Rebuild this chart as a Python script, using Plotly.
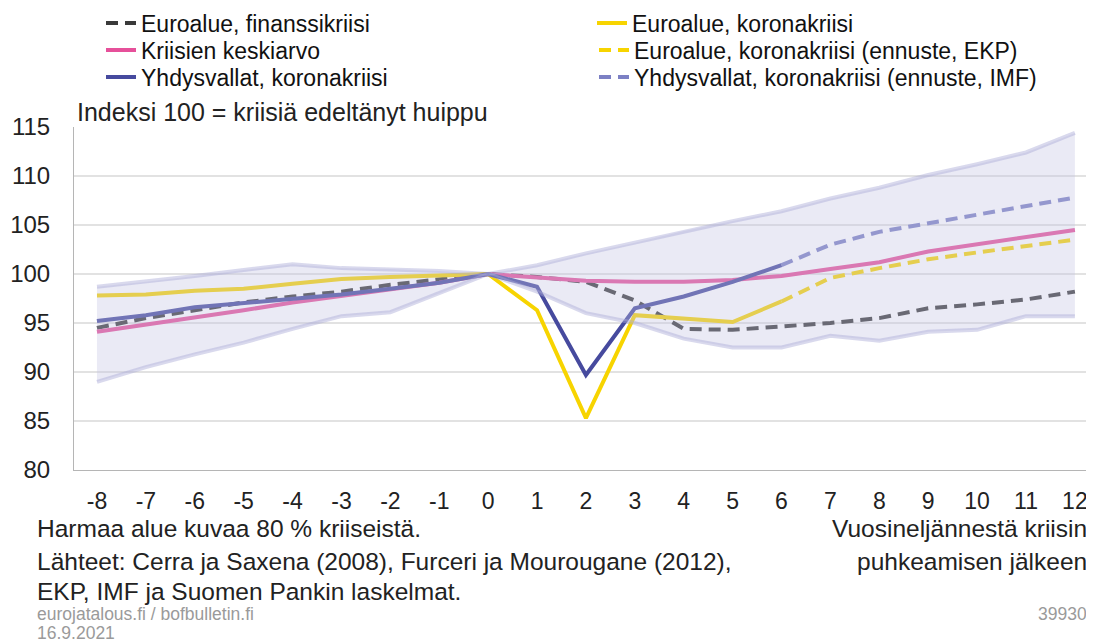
import plotly.graph_objects as go

quarters = list(range(-8, 13))
q_pre = list(range(-8, 7))
q_fc = list(range(6, 13))

euro_fin = [94.5, 95.5, 96.3, 97.1, 97.7, 98.2, 98.9, 99.4, 100, 99.7, 99.2, 97.3,
            94.4, 94.3, 94.6, 95.0, 95.5, 96.5, 96.9, 97.4, 98.2]
crisis_avg = [94.1, 94.8, 95.5, 96.3, 97.1, 97.8, 98.5, 99.1, 100, 99.6, 99.3, 99.2,
              99.2, 99.4, 99.8, 100.5, 101.2, 102.3, 103.0, 103.8, 104.5]
euro_corona = [97.8, 97.9, 98.3, 98.5, 99.0, 99.5, 99.7, 99.9, 100, 96.3, 85.3, 95.8,
               95.4, 95.1, 97.2]
euro_ekp = [97.2, 99.6, 100.6, 101.5, 102.2, 102.8, 103.5]
us_corona = [95.2, 95.8, 96.6, 97.0, 97.4, 97.9, 98.5, 99.1, 100, 98.7, 89.7, 96.5,
             97.7, 99.2, 100.9]
us_imf = [100.9, 103.0, 104.3, 105.2, 106.1, 106.9, 107.8]
band_upper = [98.7, 99.2, 99.8, 100.4, 101.0, 100.6, 100.5, 100.3, 100, 100.9, 102.1,
              103.2, 104.4, 105.4, 106.4, 107.7, 108.8, 110.1, 111.2, 112.4, 114.4]
band_lower = [89.0, 90.5, 91.8, 93.0, 94.4, 95.7, 96.1, 98.0, 100, 98.2, 96.0, 95.0,
              93.4, 92.5, 92.5, 93.7, 93.2, 94.1, 94.3, 95.7, 95.7]

names = ["Euroalue, finanssikriisi", "Euroalue, koronakriisi", "Kriisien keskiarvo",
         "Euroalue, koronakriisi (ennuste, EKP)", "Yhdysvallat, koronakriisi",
         "Yhdysvallat, koronakriisi (ennuste, IMF)"]

FONT = "Liberation Sans, Arial, sans-serif"
YELLOW = "#f7d400"
PINK = "#e6509a"
NAVY = "#464a9e"
LAV = "#7c80c4"
GREY = "#3a3a3a"
DASH = "12px,7px"

# page has an 8px body margin; figure sized to fill the rest of the window
OFF = 8
W, H = 1094 - OFF, 642 - OFF
ML, MR, MT, MB = 74 - OFF, 2, 127 - OFF, 642 - 470
pw, ph = W - ML - MR, H - MT - MB


def px2x(px):
    return (px - OFF - ML) / pw


def py2y(py):
    return 1 - (py - OFF - MT) / ph


fig = go.Figure()
fig.add_trace(go.Scatter(x=quarters, y=euro_fin, name=names[0], legend="legend",
                         line=dict(color=GREY, width=4, dash=DASH), mode="lines"))
fig.add_trace(go.Scatter(x=q_fc, y=euro_ekp, name=names[3], legend="legend4",
                         line=dict(color=YELLOW, width=4, dash=DASH), mode="lines"))
fig.add_trace(go.Scatter(x=q_fc, y=us_imf, name=names[5], legend="legend6",
                         line=dict(color=LAV, width=4, dash=DASH), mode="lines"))
fig.add_trace(go.Scatter(x=quarters, y=crisis_avg, name=names[2], legend="legend3",
                         line=dict(color=PINK, width=4), mode="lines"))
fig.add_trace(go.Scatter(x=q_pre, y=euro_corona, name=names[1], legend="legend2",
                         line=dict(color=YELLOW, width=4), mode="lines"))
fig.add_trace(go.Scatter(x=q_pre, y=us_corona, name=names[4], legend="legend5",
                         line=dict(color=NAVY, width=4), mode="lines"))

# 80 % band drawn on top (semi-transparent), as in the original
fig.add_trace(go.Scatter(x=quarters + quarters[::-1], y=band_upper + band_lower[::-1],
                         fill="toself", fillcolor="rgba(195,195,225,0.35)",
                         line=dict(width=0), mode="lines", showlegend=False,
                         hoverinfo="skip"))
for b in (band_upper, band_lower):
    fig.add_trace(go.Scatter(x=quarters, y=b, mode="lines", showlegend=False,
                             line=dict(color="rgba(170,170,215,0.45)", width=4),
                             hoverinfo="skip"))

# legend placement (reference pixel: text start x, row centre y)
leg_pos = {
    "legend": (143, 23), "legend2": (634, 23),
    "legend3": (143, 50), "legend4": (636, 50),
    "legend5": (143, 77), "legend6": (636, 77),
}
legends = {}
for key, (tx, cy) in leg_pos.items():
    legends[key] = dict(x=px2x(tx - 42), xanchor="left", y=py2y(cy), yanchor="middle",
                        orientation="v", bgcolor="rgba(0,0,0,0)",
                        font=dict(family=FONT, size=23, color="#111"))

annos = [
    ("Indeksi 100 = kriisiä edeltänyt huippu", 75, 112, "left", 25, "#222"),
    ("Harmaa alue kuvaa 80 % kriiseistä.", 35, 528, "left", 24.5, "#222"),
    ("Lähteet: Cerra ja Saxena (2008), Furceri ja Mourougane (2012),", 35, 561, "left", 24.5, "#222"),
    ("EKP, IMF ja Suomen Pankin laskelmat.", 35, 591, "left", 24.5, "#222"),
    ("Vuosineljännestä kriisin", 1089, 528, "right", 24.5, "#222"),
    ("puhkeamisen jälkeen", 1089, 561, "right", 24.5, "#222"),
    ("eurojatalous.fi / bofbulletin.fi", 35, 614, "left", 17.5, "#9a9a9a"),
    ("16.9.2021", 35, 633, "left", 17.5, "#9a9a9a"),
    ("39930", 1089, 614, "right", 17.5, "#9a9a9a"),
]
for text, x, y, anchor, size, color in annos:
    fig.add_annotation(text=text, xref="paper", yref="paper", x=px2x(x), y=py2y(y),
                       xanchor=anchor, yanchor="middle", showarrow=False,
                       font=dict(family=FONT, size=size, color=color))

fig.update_layout(
    width=W, height=H,
    margin=dict(l=ML, r=MR, t=MT, b=MB, autoexpand=False),
    paper_bgcolor="white", plot_bgcolor="white",
    font=dict(family=FONT, size=24, color="#222"),
    showlegend=True,
    **legends,
)
fig.update_xaxes(range=[-8.47, 12.35], tickmode="array", tickvals=quarters,
                 ticktext=[str(v) for v in quarters], showgrid=False, zeroline=False,
                 showline=True, linecolor="#b5b5b5", linewidth=1,
                 ticks="", ticklabelstandoff=10,
                 tickfont=dict(family=FONT, size=23, color="#222"))
fig.update_yaxes(range=[80, 115], tickvals=[80, 85, 90, 95, 100, 105, 110, 115],
                 showgrid=True, gridcolor="#e2e2e2", gridwidth=1.5, zeroline=False,
                 showline=True, linecolor="#b5b5b5", linewidth=1,
                 ticks="", ticklabelstandoff=18,
                 tickfont=dict(family=FONT, size=24, color="#222"))

fig.write_html("out.html")
